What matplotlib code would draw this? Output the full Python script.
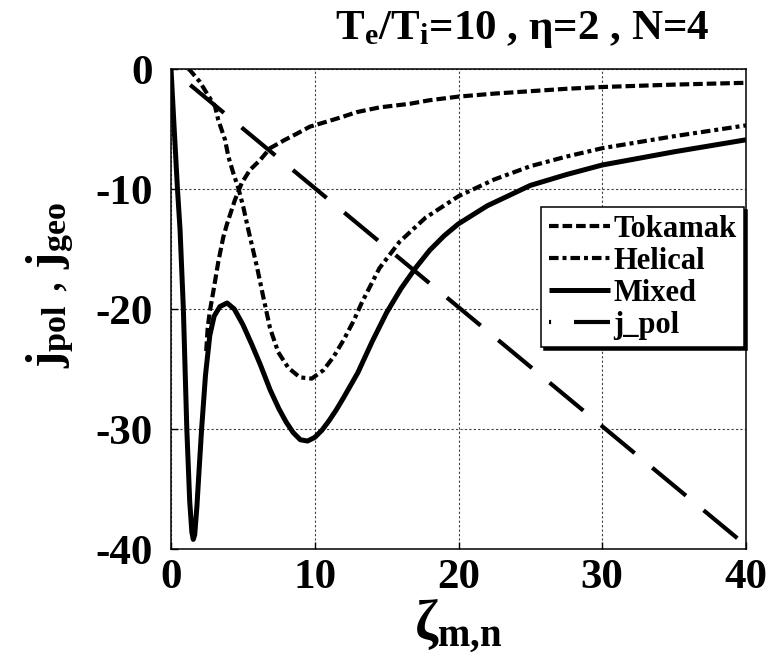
import matplotlib
matplotlib.use("Agg")
import matplotlib.pyplot as plt

plt.rcParams['font.family'] = ['Liberation Serif', 'DejaVu Serif']
plt.rcParams['font.weight'] = 'bold'
plt.rcParams['mathtext.fontset'] = 'custom'
plt.rcParams['mathtext.rm'] = 'Liberation Serif:bold'
plt.rcParams['mathtext.bf'] = 'Liberation Serif:bold'
plt.rcParams['mathtext.it'] = 'Liberation Serif:bold'
plt.rcParams['axes.unicode_minus'] = False

# ---- data ----
tok_x = [2.45, 2.55, 2.7, 2.95, 3.3, 3.64, 3.9, 4.45, 4.92, 5.5, 6.19, 6.89, 7.93,
         8.74, 9.67, 10.8, 11.9, 12.9, 14.5, 16.6, 18.0, 20.0, 22.5, 25.0, 27.5,
         30.0, 35.0, 40.0]
tok_y = [-23.5, -21.6, -20.2, -18.5, -16.0, -14.0, -12.9, -10.9, -9.5, -8.4, -7.6,
         -6.6, -5.9, -5.4, -4.8, -4.4, -4.0, -3.6, -3.2, -2.9, -2.6, -2.3, -2.05,
         -1.85, -1.65, -1.5, -1.3, -1.15]

hel_x = [1.2, 1.32, 2.0, 2.48, 3.06, 3.29, 3.76, 3.99, 4.34, 4.69, 5.03, 5.38, 5.73,
         6.0, 6.42, 6.89, 7.46, 8.16, 8.97, 9.79, 10.6, 11.3, 12.0, 12.7, 13.3, 14.5,
         15.9, 17.7, 20.0, 22.5, 25.0, 27.5, 30.0, 35.0, 40.0]
hel_y = [0.0, -0.1, -1.06, -2.0, -3.1, -4.25, -5.9, -7.3, -8.7, -9.95, -11.5, -13.4,
         -15.2, -16.6, -19.0, -21.6, -23.6, -24.9, -25.7, -25.8, -25.1, -24.0, -22.6,
         -21.0, -19.4, -16.6, -14.4, -12.4, -10.6, -9.2, -8.1, -7.3, -6.6, -5.6, -4.7]

mix_x = [0, 0.2, 0.45, 0.63, 0.86, 1.1, 1.3, 1.45, 1.55, 1.65, 1.8, 1.95, 2.13, 2.4,
         2.7, 3.0, 3.4, 3.9, 4.4, 5.0, 5.6, 6.2, 6.9, 7.5, 8.0, 8.5, 9.0, 9.5, 10.0,
         10.5, 11.0, 11.5, 12.0, 13.0, 14.0, 15.0, 16.0, 17.0, 18.0, 19.0, 20.0, 22.0,
         25.0, 27.5, 30.0, 35.0, 40.0]
mix_y = [0, -4.5, -10, -13.4, -20, -30, -36, -38.6, -39.2, -38.8, -36.5, -33.5, -30,
         -25.5, -22.2, -20.6, -19.8, -19.5, -20.0, -21.3, -22.9, -24.6, -26.75, -28.3,
         -29.4, -30.3, -30.9, -31.0, -30.7, -30.1, -29.3, -28.4, -27.4, -25.3, -22.7,
         -20.3, -18.3, -16.6, -15.1, -13.9, -12.9, -11.4, -9.7, -8.8, -8.0, -6.9, -5.9]

jp_x = [0, 40]
jp_y = [0, -39.7]

labels = ['Tokamak', 'Helical', 'Mixed', 'j_pol']
xticks = [0, 10, 20, 30, 40]
yticks = [0, -10, -20, -30, -40]

fig = plt.figure(figsize=(7.68, 6.68), dpi=100)
ax = fig.add_axes([171/768, 1-549/668, 575/768, 480/668])

lw_d = 3.0
ax.plot(tok_x, tok_y, color='black', lw=lw_d, linestyle=(0, (2.3, 0.95)),
        dash_capstyle='butt', label=labels[0])
ax.plot(hel_x, hel_y, color='black', lw=lw_d, linestyle=(0, (2.3, 0.95, 0.95, 0.95)),
        dash_capstyle='butt', label=labels[1])
ax.plot(mix_x, mix_y, color='black', lw=3.6, linestyle='-', label=labels[2],
        solid_capstyle='butt', solid_joinstyle='round')
ax.plot(jp_x, jp_y, color='black', lw=lw_d, linestyle=(10, (10.5, 5.5)),
        dash_capstyle='butt', label=labels[3])

ax.set_xlim(0, 40)
ax.set_ylim(-40, 0)
ax.set_xticks(xticks)
ax.set_yticks(yticks)
ax.set_xticklabels([str(v) for v in xticks])
ax.set_yticklabels([str(v) for v in yticks])
ax.tick_params(axis='both', direction='in', length=5, width=1, labelsize=31)
ax.tick_params(axis='y', pad=13)
ax.tick_params(axis='x', pad=7)
for lab in ax.get_xticklabels() + ax.get_yticklabels():
    lab.set_fontweight('bold')
ax.grid(True, color='0.25', linestyle=(0, (2, 2)), linewidth=0.8)
for s in ax.spines.values():
    s.set_linewidth(1.1)

ax.set_xlabel(r'$\mathbf{ζ}_{\mathbf{m{,}n}}$', fontsize=40)
ax.xaxis.set_label_coords(0.5, -0.1)
ax.set_ylabel(r'$\mathbf{j_{pol}}$ , $\mathbf{j_{geo}}$', fontsize=35)
ax.yaxis.set_label_coords(-0.165, 0.55)

ax.text(0.61, 1.04, r'$\mathbf{T_{e}}$/$\mathbf{T_{i}}$=10 , η=2 , N=4',
        transform=ax.transAxes, ha='center', va='bottom', fontsize=31,
        fontweight='bold')

leg = ax.legend(loc='upper right', bbox_to_anchor=(0.9965, 0.7125), fontsize=22,
                frameon=True, fancybox=False, shadow={'color': 'black', 'alpha': 1.0},
                handlelength=2.0, handletextpad=0.1, labelspacing=0.1,
                borderpad=0.25, borderaxespad=0.0)
leg.get_frame().set_edgecolor('black')
leg.get_frame().set_linewidth(1.1)
leg.get_frame().set_alpha(1.0)
for t in leg.get_texts():
    t.set_fontweight('bold')

fig.savefig('out.png', dpi=100)
